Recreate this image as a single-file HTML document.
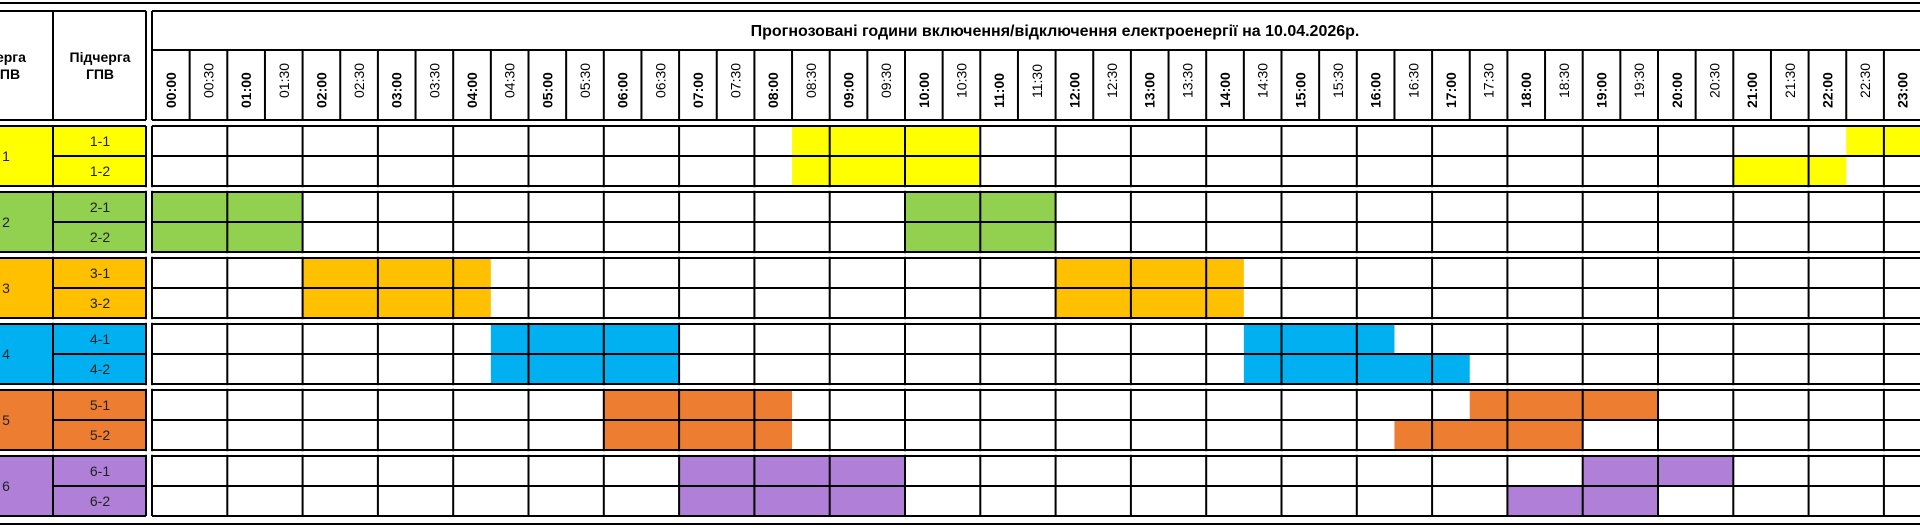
<!DOCTYPE html>
<html><head><meta charset="utf-8"><style>
html,body{margin:0;padding:0;background:#fff;width:1920px;height:530px;overflow:hidden}
svg{display:block;font-family:"Liberation Sans","DejaVu Sans",sans-serif}
.b{font-weight:bold;font-size:14px}
.n{font-size:14px}
.h{font-weight:bold;font-size:14px}
.t{font-weight:bold;font-size:16px}
.c{font-size:14px}
</style></head><body>
<svg width="1920" height="530" viewBox="0 0 1920 530" xmlns="http://www.w3.org/2000/svg">
<rect x="-40" y="126" width="186" height="60" fill="#ffff00"/>
<rect x="-40" y="192" width="186" height="60" fill="#92d050"/>
<rect x="-40" y="258" width="186" height="60" fill="#ffc000"/>
<rect x="-40" y="324" width="186" height="60" fill="#00b0f0"/>
<rect x="-40" y="390" width="186" height="60" fill="#ed7d31"/>
<rect x="-40" y="456" width="186" height="60" fill="#b07fd8"/>
<g>
<rect x="792.05" y="126" width="188.25" height="30" fill="#ffff00"/>
<rect x="1846.25" y="126" width="80" height="30" fill="#ffff00"/>
<rect x="792.05" y="156" width="188.25" height="30" fill="#ffff00"/>
<rect x="1733.3" y="156" width="112.95" height="30" fill="#ffff00"/>
<rect x="152" y="192" width="150.6" height="60" fill="#92d050"/>
<rect x="905" y="192" width="150.6" height="60" fill="#92d050"/>
<rect x="302.6" y="258" width="188.25" height="60" fill="#ffc000"/>
<rect x="1055.6" y="258" width="188.25" height="60" fill="#ffc000"/>
<rect x="490.85" y="324" width="188.25" height="60" fill="#00b0f0"/>
<rect x="1243.85" y="324" width="150.6" height="30" fill="#00b0f0"/>
<rect x="1243.85" y="354" width="225.9" height="30" fill="#00b0f0"/>
<rect x="603.8" y="390" width="188.25" height="60" fill="#ed7d31"/>
<rect x="1469.75" y="390" width="188.25" height="30" fill="#ed7d31"/>
<rect x="1394.45" y="420" width="188.25" height="30" fill="#ed7d31"/>
<rect x="679.1" y="456" width="225.9" height="60" fill="#b07fd8"/>
<rect x="1582.7" y="456" width="150.6" height="30" fill="#b07fd8"/>
<rect x="1507.4" y="486" width="150.6" height="30" fill="#b07fd8"/>
</g>
<g stroke="#000" stroke-width="2" fill="none">
<path d="M0 3H1920M0 524H1920"/>
<path d="M0 11H146M152 11H1920M0 120H146M152 120H1920M152 50H1920"/>
<path d="M53 11V120M146 11V120M152 11V120"/>
<path d="M189.65 50V120M227.3 50V120M264.95 50V120M302.6 50V120M340.25 50V120M377.9 50V120M415.55 50V120M453.2 50V120M490.85 50V120M528.5 50V120M566.15 50V120M603.8 50V120M641.45 50V120M679.1 50V120M716.75 50V120M754.4 50V120M792.05 50V120M829.7 50V120M867.35 50V120M905 50V120M942.65 50V120M980.3 50V120M1017.95 50V120M1055.6 50V120M1093.25 50V120M1130.9 50V120M1168.55 50V120M1206.2 50V120M1243.85 50V120M1281.5 50V120M1319.15 50V120M1356.8 50V120M1394.45 50V120M1432.1 50V120M1469.75 50V120M1507.4 50V120M1545.05 50V120M1582.7 50V120M1620.35 50V120M1658 50V120M1695.65 50V120M1733.3 50V120M1770.95 50V120M1808.6 50V120M1846.25 50V120M1883.9 50V120"/>
<path d="M0 126H146M152 126H1920M53 156H146M152 156H1920M0 186H146M152 186H1920"/>
<path d="M0 192H146M152 192H1920M53 222H146M152 222H1920M0 252H146M152 252H1920"/>
<path d="M0 258H146M152 258H1920M53 288H146M152 288H1920M0 318H146M152 318H1920"/>
<path d="M0 324H146M152 324H1920M53 354H146M152 354H1920M0 384H146M152 384H1920"/>
<path d="M0 390H146M152 390H1920M53 420H146M152 420H1920M0 450H146M152 450H1920"/>
<path d="M0 456H146M152 456H1920M53 486H146M152 486H1920M0 516H146M152 516H1920"/>
<path d="M53 126V516M146 126V516M152 126V516M227.3 126V516M302.6 126V516M377.9 126V516M453.2 126V516M528.5 126V516M603.8 126V516M679.1 126V516M754.4 126V516M829.7 126V516M905 126V516M980.3 126V516M1055.6 126V516M1130.9 126V516M1206.2 126V516M1281.5 126V516M1356.8 126V516M1432.1 126V516M1507.4 126V516M1582.7 126V516M1658 126V516M1733.3 126V516M1808.6 126V516M1883.9 126V516"/>
</g>
<g fill="#fff">
<rect x="0" y="187.2" width="1920" height="3.6"/>
<rect x="0" y="253.2" width="1920" height="3.6"/>
<rect x="0" y="319.2" width="1920" height="3.6"/>
<rect x="0" y="385.2" width="1920" height="3.6"/>
<rect x="0" y="451.2" width="1920" height="3.6"/>
</g>
<text x="1055" y="36" text-anchor="middle" class="t">Прогнозовані години включення/відключення електроенергії на 10.04.2026р.</text>
<text x="6" y="62" text-anchor="middle" class="h">Черга</text>
<text x="6" y="79" text-anchor="middle" class="h">ГПВ</text>
<text x="100" y="62" text-anchor="middle" class="h">Підчерга</text>
<text x="100" y="79" text-anchor="middle" class="h">ГПВ</text>
<g class="c" fill="#222">
<text x="6" y="161" text-anchor="middle">1</text>
<text x="6" y="227" text-anchor="middle">2</text>
<text x="6" y="293" text-anchor="middle">3</text>
<text x="6" y="359" text-anchor="middle">4</text>
<text x="6" y="425" text-anchor="middle">5</text>
<text x="6" y="491" text-anchor="middle">6</text>
<g text-anchor="middle">
<text x="100" y="146">1-1</text><text x="100" y="176">1-2</text>
<text x="100" y="212">2-1</text><text x="100" y="242">2-2</text>
<text x="100" y="278">3-1</text><text x="100" y="308">3-2</text>
<text x="100" y="344">4-1</text><text x="100" y="374">4-2</text>
<text x="100" y="410">5-1</text><text x="100" y="440">5-2</text>
<text x="100" y="476">6-1</text><text x="100" y="506">6-2</text>
</g>
</g>
<g class="b">
<text transform="translate(175.8,108) rotate(-90)">00:00</text>
<text transform="translate(251.1,108) rotate(-90)">01:00</text>
<text transform="translate(326.4,108) rotate(-90)">02:00</text>
<text transform="translate(401.7,108) rotate(-90)">03:00</text>
<text transform="translate(477,108) rotate(-90)">04:00</text>
<text transform="translate(552.3,108) rotate(-90)">05:00</text>
<text transform="translate(627.6,108) rotate(-90)">06:00</text>
<text transform="translate(702.9,108) rotate(-90)">07:00</text>
<text transform="translate(778.2,108) rotate(-90)">08:00</text>
<text transform="translate(853.5,108) rotate(-90)">09:00</text>
<text transform="translate(928.8,108) rotate(-90)">10:00</text>
<text transform="translate(1004.1,108) rotate(-90)">11:00</text>
<text transform="translate(1079.4,108) rotate(-90)">12:00</text>
<text transform="translate(1154.7,108) rotate(-90)">13:00</text>
<text transform="translate(1230,108) rotate(-90)">14:00</text>
<text transform="translate(1305.3,108) rotate(-90)">15:00</text>
<text transform="translate(1380.6,108) rotate(-90)">16:00</text>
<text transform="translate(1455.9,108) rotate(-90)">17:00</text>
<text transform="translate(1531.2,108) rotate(-90)">18:00</text>
<text transform="translate(1606.5,108) rotate(-90)">19:00</text>
<text transform="translate(1681.8,108) rotate(-90)">20:00</text>
<text transform="translate(1757.1,108) rotate(-90)">21:00</text>
<text transform="translate(1832.4,108) rotate(-90)">22:00</text>
<text transform="translate(1907.7,108) rotate(-90)">23:00</text>
</g>
<g class="n">
<text transform="translate(213.45,98) rotate(-90)">00:30</text>
<text transform="translate(288.75,98) rotate(-90)">01:30</text>
<text transform="translate(364.05,98) rotate(-90)">02:30</text>
<text transform="translate(439.35,98) rotate(-90)">03:30</text>
<text transform="translate(514.65,98) rotate(-90)">04:30</text>
<text transform="translate(589.95,98) rotate(-90)">05:30</text>
<text transform="translate(665.25,98) rotate(-90)">06:30</text>
<text transform="translate(740.55,98) rotate(-90)">07:30</text>
<text transform="translate(815.85,98) rotate(-90)">08:30</text>
<text transform="translate(891.15,98) rotate(-90)">09:30</text>
<text transform="translate(966.45,98) rotate(-90)">10:30</text>
<text transform="translate(1041.75,98) rotate(-90)">11:30</text>
<text transform="translate(1117.05,98) rotate(-90)">12:30</text>
<text transform="translate(1192.35,98) rotate(-90)">13:30</text>
<text transform="translate(1267.65,98) rotate(-90)">14:30</text>
<text transform="translate(1342.95,98) rotate(-90)">15:30</text>
<text transform="translate(1418.25,98) rotate(-90)">16:30</text>
<text transform="translate(1493.55,98) rotate(-90)">17:30</text>
<text transform="translate(1568.85,98) rotate(-90)">18:30</text>
<text transform="translate(1644.15,98) rotate(-90)">19:30</text>
<text transform="translate(1719.45,98) rotate(-90)">20:30</text>
<text transform="translate(1794.75,98) rotate(-90)">21:30</text>
<text transform="translate(1870.05,98) rotate(-90)">22:30</text>
</g>
</svg>
</body></html>
